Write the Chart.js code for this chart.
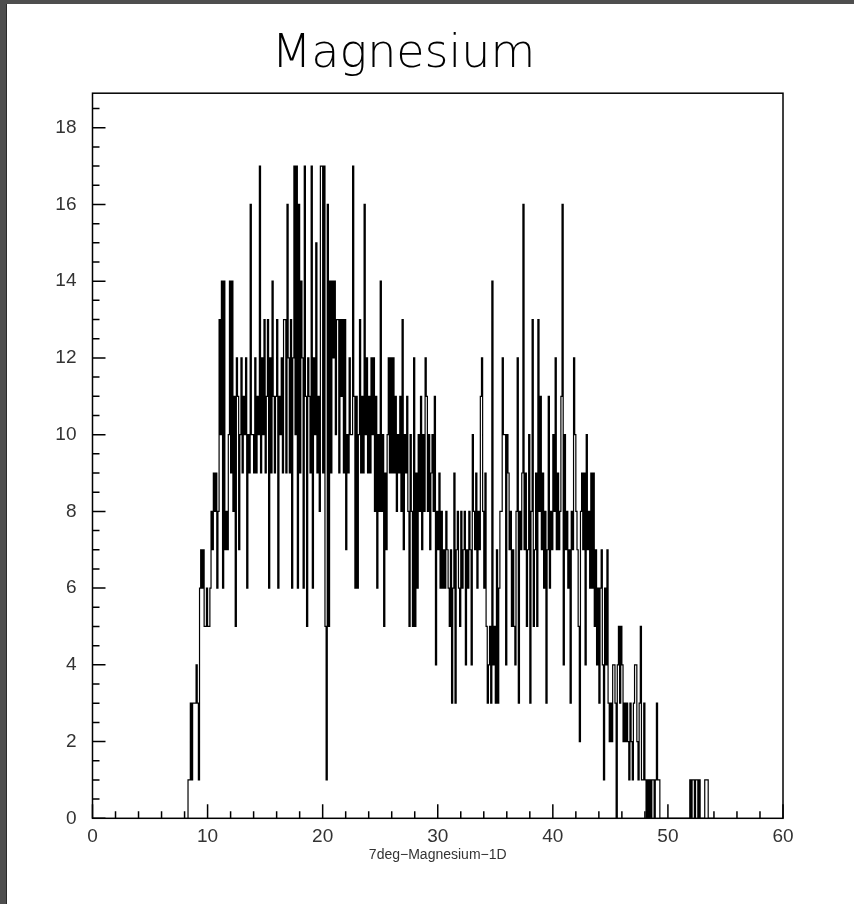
<!DOCTYPE html>
<html>
<head>
<meta charset="utf-8">
<script src="https://cdn.jsdelivr.net/npm/chart.js@4.4.1/dist/chart.umd.min.js"></script>
<style>
  html, body { margin: 0; padding: 0; background: #4e4e4e; width: 854px; height: 904px; overflow: hidden; }
  #frame { position: absolute; left: 6px; top: 4px; width: 848px; height: 900px; background: #fff; border-left: 1px solid #2b2b2b; }
  #histo { display: block; }
</style>
</head>
<body>
<div id="frame"><canvas id="histo" width="847" height="900"></canvas></div>
<script>
// Histograma: cuentas por bin de 0.1, primer bin en 8.3
var binStart = 8.3;
var binWidth = 0.1;

// 8.3 - 19.9
var counts08 = [
    0, 1, 1, 3, 1, 3, 3,
    3, 4, 3, 1, 6, 7, 6, 7, 5, 5,
    6, 5, 5, 6, 8, 7, 9, 8, 9, 6,
    8, 13, 10, 14, 6, 14, 7, 8, 7, 10,
    14, 9, 14, 8, 11, 5, 12, 11, 7, 10,
    12, 9, 11, 10, 12, 6, 10, 9, 16, 10,
    10, 9, 12, 9, 11, 10, 17, 9, 12, 10,
    13, 9, 11, 13, 6, 12, 9, 14, 11, 9,
    11, 13, 6, 11, 10, 12, 9, 13, 13, 9,
    16, 12, 9, 13, 6, 12, 17, 10, 17, 6,
    16, 9, 14, 12, 6, 17, 11, 5, 12, 11,
    9, 17, 6, 12, 10, 15, 9, 11, 8, 17
];

// 20.0 - 31.9
var counts20 = [
    17, 9, 17, 5, 1, 16, 5, 14, 9, 14,
    12, 14, 10, 13, 13, 9, 13, 11, 13, 9,
    13, 7, 10, 9, 12, 10, 10, 17, 11, 6,
    11, 6, 10, 13, 9, 11, 9, 16, 10, 12,
    9, 11, 9, 12, 10, 12, 8, 11, 6, 10,
    8, 14, 8, 10, 5, 9, 7, 10, 12, 9,
    12, 9, 12, 9, 11, 8, 10, 9, 11, 8,
    13, 7, 10, 9, 11, 8, 5, 10, 8, 5,
    12, 5, 9, 6, 10, 8, 11, 7, 10, 8,
    12, 11, 8, 10, 7, 9, 10, 8, 11, 4,
    8, 7, 9, 6, 8, 6, 7, 6, 8, 7,
    6, 5, 7, 3, 6, 9, 3, 7, 8, 6
];

// 32.0 - 43.9
var counts32 = [
    5, 8, 6, 7, 8, 4, 7, 6, 8, 7,
    4, 10, 8, 7, 9, 6, 8, 7, 11, 12,
    8, 6, 9, 5, 3, 4, 5, 3, 14, 4,
    5, 3, 7, 3, 6, 8, 8, 12, 10, 10,
    4, 10, 9, 7, 8, 5, 7, 5, 4, 8,
    12, 3, 8, 7, 9, 16, 7, 9, 5, 7,
    10, 3, 8, 13, 5, 7, 9, 5, 13, 8,
    11, 7, 9, 6, 8, 3, 7, 11, 6, 8,
    7, 10, 8, 12, 7, 9, 7, 8, 11, 16,
    4, 10, 7, 8, 6, 7, 3, 8, 7, 12,
    10, 8, 7, 5, 2, 8, 9, 7, 9, 4,
    10, 7, 8, 6, 9, 6, 9, 5, 7, 4
];

// 44.0 - 53.9
var counts44 = [
    6, 3, 6, 7, 4, 1, 6, 4, 7, 3,
    2, 3, 2, 4, 4, 3, 0, 4, 5, 3,
    5, 4, 2, 3, 2, 3, 2, 1, 3, 2,
    1, 3, 4, 4, 2, 1, 3, 5, 1, 1,
    3, 1, 0, 1, 0, 1, 0, 1, 1, 0,
    1, 3, 1, 1, 0, 0, 0, 0, 0, 0,
    0, 0, 0, 0, 0, 0, 0, 0, 0, 0,
    0, 0, 0, 0, 0, 0, 0, 0, 0, 0,
    1, 0, 1, 1, 0, 1, 1, 0, 1, 0,
    0, 0, 0, 1, 1, 1, 0, 0, 0, 0
];

var counts = counts08.concat(counts20, counts32, counts44);

var xTicks = [0, 10, 20, 30, 40, 50, 60];
var yTicks = [0, 2, 4, 6, 8, 10, 12, 14, 16, 18];

// puntos del contorno escalonado (borde inferior de cada bin)
var puntos = counts.map(function (c, i) {
    return { x: binStart + i * binWidth, y: c };
});
puntos.push({ x: binStart + counts.length * binWidth, y: 0 });

// Marco y ticks hacia adentro, estilo ROOT
var marcoPlugin = {
    id: 'marco',
    afterDatasetsDraw: function (chart) {
        var ctx = chart.ctx;
        var a = chart.chartArea;
        var xs = chart.scales.x;
        var ys = chart.scales.y;
        ctx.save();
        ctx.strokeStyle = '#000';
        ctx.lineWidth = 1.5;
        ctx.strokeRect(a.left, a.top, a.right - a.left, a.bottom - a.top);
        ctx.beginPath();
        for (var v = 0; v <= 60; v += 2) {
            var px = xs.getPixelForValue(v);
            var len = (v % 10 === 0) ? 14 : 7;
            ctx.moveTo(px, a.bottom);
            ctx.lineTo(px, a.bottom - len);
        }
        for (var k = 0; k <= 37; k++) {
            var val = k * 0.5;
            var py = ys.getPixelForValue(val);
            var l = (val % 2 === 0) ? 13 : 7;
            ctx.moveTo(a.left, py);
            ctx.lineTo(a.left + l, py);
        }
        ctx.stroke();
        ctx.restore();
    }
};

var ctx = document.getElementById('histo');
new Chart(ctx.getContext('2d'), {
    type: 'line',
    data: {
        datasets: [{
            label: '7deg-Magnesium-1D',
            data: puntos,
            stepped: 'after',
            borderColor: '#000',
            borderWidth: 1.2,
            pointRadius: 0,
            fill: false
        }]
    },
    options: {
        responsive: false,
        animation: false,
        devicePixelRatio: 1,
        layout: {
            padding: { left: 17, right: 71, top: 0, bottom: 0 }
        },
        plugins: {
            legend: { display: false },
            tooltip: { enabled: false },
            title: {
                display: true,
                text: 'Magnesium',
                color: '#000',
                font: { family: '"DejaVu Sans", sans-serif', size: 46, weight: '200', lineHeight: 1.2 },
                padding: { top: 23, bottom: 11 }
            }
        },
        scales: {
            x: {
                type: 'linear',
                min: 0,
                max: 60,
                afterFit: function (s) { s.height = 85.7; },
                afterBuildTicks: function (s) { s.ticks = xTicks.map(function (v) { return { value: v }; }); },
                grid: { display: false, drawTicks: false, tickLength: 0 },
                border: { display: false },
                ticks: {
                    padding: 7,
                    color: '#333',
                    maxRotation: 0,
                    autoSkip: false,
                    font: { family: '"Liberation Sans", Arial, sans-serif', size: 19 }
                },
                title: {
                    display: true,
                    text: '7deg\u2212Magnesium\u22121D',
                    color: '#333',
                    font: { family: '"Liberation Sans", Arial, sans-serif', size: 14 },
                    padding: { top: 0, bottom: 40 }
                }
            },
            y: {
                min: 0,
                max: 18.9,
                afterFit: function (s) { s.width = 68.5; },
                afterBuildTicks: function (s) { s.ticks = yTicks.map(function (v) { return { value: v }; }); },
                grid: { display: false, drawTicks: false, tickLength: 0 },
                border: { display: false },
                ticks: {
                    padding: 16,
                    color: '#333',
                    font: { family: '"Liberation Sans", Arial, sans-serif', size: 19 }
                }
            }
        }
    },
    plugins: [marcoPlugin]
});
</script>
</body>
</html>
